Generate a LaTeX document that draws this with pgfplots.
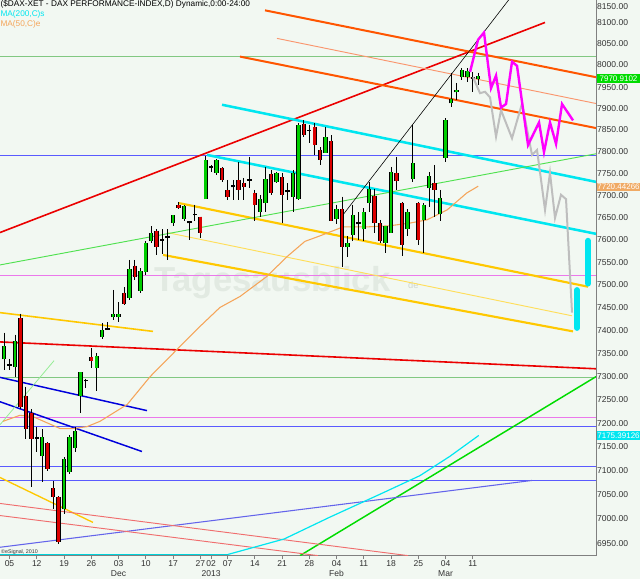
\documentclass[border=0pt]{standalone}
\usepackage{fontspec}
\setmainfont{Liberation Sans}
\usepackage{graphicx}
\usepackage{pgfplots}
\usepackage{pgfplotstable}
\pgfplotsset{compat=1.18}
\definecolor{bgc}{RGB}{242,248,242}
\definecolor{cgreen}{RGB}{0,205,0}
\definecolor{cred}{RGB}{220,0,0}
\definecolor{lred}{RGB}{235,0,0}
\definecolor{lorange}{RGB}{255,85,0}
\definecolor{lsalmon}{RGB}{250,150,110}
\definecolor{lcyan}{RGB}{0,230,240}
\definecolor{lgold}{RGB}{255,200,0}
\definecolor{lyellow}{RGB}{255,222,90}
\definecolor{dblue}{RGB}{0,0,220}
\definecolor{hblue}{RGB}{90,90,255}
\definecolor{hpink}{RGB}{235,120,235}
\definecolor{hgreen}{RGB}{130,200,130}
\definecolor{llime}{RGB}{80,225,80}
\definecolor{tgreen}{RGB}{0,220,0}
\definecolor{lpurple}{RGB}{100,100,235}
\definecolor{lpinkred}{RGB}{240,110,110}
\definecolor{pmag}{RGB}{255,0,255}
\definecolor{pgray}{RGB}{190,190,190}
\definecolor{ma50}{RGB}{245,165,90}
\definecolor{wm}{RGB}{226,234,226}
\definecolor{axgray}{RGB}{128,128,128}
\definecolor{tagorange}{RGB}{240,170,100}
\definecolor{taggreen}{RGB}{0,220,0}
\newcommand{\tfont}{\fontsize{3.2}{3.75}\selectfont}
% daily candles: index (trading day, 0 = 5 Nov 2012), open, high, low, close, body colour
\pgfplotstableread{
i O H L C col
-1 7336 7395 7314 7365 cgreen
0 7327 7338 7314 7323 black
1 7321 7391 7299 7378 cgreen
2 7427 7436 7230 7234 cred
3 7259 7278 7166 7187 cred
4 7223 7230 7066 7166 cred
5 7170 7191 7139 7166 black
6 7132 7187 7076 7170 cgreen
7 7158 7160 7099 7103 cred
8 7064 7078 7020 7045 cred
9 7045 7047 6949 6953 cred
10 7020 7128 7010 7124 cgreen
11 7097 7176 7092 7172 cgreen
12 7149 7193 7139 7185 cgreen
13 7259 7310 7223 7310 cgreen
14 7289 7295 7276 7293 black
15 7342 7362 7318 7334 cred
16 7318 7351 7268 7345 cgreen
17 7386 7416 7380 7401 cgreen
18 7401 7418 7401 7405 black
19 7429 7489 7423 7436 cgreen
20 7429 7462 7418 7436 cgreen
21 7482 7494 7454 7458 cred
22 7471 7555 7467 7535 cgreen
23 7542 7555 7511 7518 cred
24 7487 7537 7482 7531 cgreen
25 7529 7596 7522 7593 cgreen
26 7596 7630 7593 7616 cgreen
27 7620 7623 7566 7584 cred
28 7598 7623 7569 7602 black
29 7605 7623 7555 7609 black
30 7638 7656 7630 7656 cgreen
31 7679 7686 7668 7672 cred
32 7647 7679 7641 7676 cgreen
33 7637 7641 7600 7641 black
34 7655 7679 7641 7659 black
35 7652 7652 7605 7616 cred
36 7692 7790 7692 7781 cgreen
37 7762 7769 7753 7766 black
38 7751 7783 7746 7781 cgreen
39 7763 7765 7730 7735 cred
40 7712 7735 7690 7697 cred
41 7718 7735 7690 7722 black
42 7735 7776 7690 7712 cred
43 7728 7740 7690 7719 cred
44 7737 7788 7717 7733 black
45 7706 7712 7641 7679 cred
46 7663 7701 7650 7692 cgreen
47 7683 7765 7661 7737 cgreen
48 7749 7758 7701 7706 cred
49 7730 7753 7728 7751 cgreen
50 7742 7751 7638 7701 cred
51 7707 7728 7690 7711 black
52 7697 7758 7663 7751 cgreen
53 7692 7866 7690 7861 cgreen
54 7864 7871 7834 7838 cred
55 7851 7861 7820 7847 black
56 7857 7866 7792 7815 cred
57 7804 7811 7769 7781 cred
58 7797 7857 7797 7834 cgreen
59 7825 7838 7641 7641 cred
60 7647 7679 7634 7668 cgreen
61 7668 7697 7539 7584 cred
62 7584 7607 7562 7593 cgreen
63 7611 7679 7596 7656 cgreen
64 7635 7661 7600 7639 black
65 7623 7672 7596 7661 cgreen
66 7683 7730 7661 7715 cgreen
67 7699 7715 7616 7638 cred
68 7638 7645 7593 7596 cred
69 7593 7632 7571 7630 cgreen
70 7616 7765 7616 7753 cgreen
71 7751 7788 7712 7733 cred
72 7683 7686 7564 7589 cred
73 7625 7668 7607 7663 cgreen
74 7737 7861 7730 7774 cgreen
75 7683 7686 7589 7600 cred
76 7645 7683 7571 7679 cgreen
77 7717 7753 7674 7744 cgreen
78 7728 7769 7652 7712 cred
79 7659 7712 7641 7694 cgreen
80 7785 7877 7776 7873 cgreen
81 7912 7983 7903 7921 cgreen
82 7937 7959 7919 7943 cgreen
83 7973 7994 7966 7990 cgreen
84 7973 7994 7961 7987 cgreen
85 7974 7985 7938 7970 black
86 7970 7983 7954 7976 cgreen
}\candles
\begin{document}
\scalebox{2}{%
\begin{tikzpicture}
\fill[bgc] (0,-8.625pt) rectangle (240pt,208.5pt);
\begin{axis}[
  at={(0,0)}, anchor=south west,
  scale only axis, width=223.5pt, height=208.5pt,
  xmin=-1.743, xmax=107.61,
  ymode=log, ymin=6925.3, ymax=8155.8,
  axis x line*=bottom, axis y line*=right,
  axis line style={-, draw=axgray, line width=0.3pt},
  clip mode=individual,
  tick align=outside,
  major tick length=1.25pt,
  xtick={0,5,10,15,20,25,30,35,37,40,45,50,55,60,65,70,75,80,85},
  xticklabels={05,12,19,26,{03\\Dec},10,17,27,{02\\2013},07,14,21,28,{04\\Feb},11,18,25,{04\\Mar},11},
  xticklabel style={font=\tfont, align=center, text=black!80, inner sep=0.5pt},
  x tick style={draw=axgray, line width=0.25pt},
  ytick={6950,7000,7050,7100,7150,7200,7250,7300,7350,7400,7450,7500,7550,7600,7650,7700,7750,7800,7850,7900,7950,8000,8050,8100},
  yticklabels={6950.00,7000.00,7050.00,7100.00,7150.00,7200.00,7250.00,7300.00,7350.00,7400.00,7450.00,7500.00,7550.00,7600.00,7650.00,7700.00,7750.00,7800.00,7850.00,7900.00,7950.00,8000.00,8050.00,8100.00},
  extra y ticks={8150}, extra y tick labels={8150.00},
  extra y tick style={yticklabel style={yshift=-1.75pt}},
  y tick style={draw=none},
  yticklabel style={font=\tfont, text=black!80, anchor=west, inner sep=0.2pt},
  yticklabel shift=-1.2pt,
  minor y tick num=0,
  every axis plot/.append style={no markers},
]
% watermark
\node[text=wm, font=\bfseries\fontsize{13}{13}\selectfont] at (axis cs:48.2,7504) {Tagesausblick};
\node[text=wm!92!black, font=\fontsize{3.5}{3.5}\selectfont, anchor=south west] at (axis cs:71.4,7470) {de};
% horizontal lines
\addplot[hgreen, line width=0.35pt] coordinates {(-1.743,8020) (107.61,8020)};
\addplot[hblue, line width=0.4pt] coordinates {(-1.743,7790) (107.61,7790)};
\addplot[hpink, line width=0.45pt] coordinates {(-1.743,7520) (107.61,7520)};
\addplot[hpink, line width=0.45pt] coordinates {(-1.743,7212) (107.61,7212)};
\addplot[hblue, line width=0.4pt] coordinates {(-1.743,7193) (107.61,7193)};
\addplot[hblue, line width=0.4pt] coordinates {(-1.743,7109) (107.61,7109)};
\addplot[hblue, line width=0.4pt] coordinates {(-1.743,7080) (107.61,7080)};
\addplot[hgreen, line width=0.45pt] coordinates {(-1.743,7298) (107.61,7298)};
% trend lines
\addplot[lred, line width=0.6pt] coordinates {(-1.743,7616) (98.26,8101)};
\addplot[lred, line width=0.6pt] coordinates {(-1.743,7375) (107.61,7317)};
\addplot[lorange, line width=0.75pt] coordinates {(46.88,8130) (107.61,7973)};
\addplot[lsalmon, line width=0.35pt] coordinates {(49.08,8063) (107.61,7912)};
\addplot[lorange, line width=0.75pt] coordinates {(42.29,8020) (107.61,7854)};
\addplot[lcyan, line width=0.95pt] coordinates {(38.99,7908) (107.61,7731)};
\addplot[lcyan, line width=0.95pt] coordinates {(36.24,7792) (107.61,7613)};
\addplot[lgold, line width=0.8pt] coordinates {(31.1,7683) (106.15,7496)};
\addplot[lgold, line width=0.8pt] coordinates {(28.17,7566) (103.4,7397)};
\addplot[lyellow, line width=0.35pt] coordinates {(28.9,7616) (103.2,7432)};
\addplot[lgold, line width=0.6pt] coordinates {(-1.743,7438) (26.33,7397)};
\addplot[lgold, line width=0.5pt] coordinates {(-1.743,7086) (15.32,6993)};
\addplot[dblue, line width=0.55pt] coordinates {(-1.743,7298) (25.23,7227)};
\addplot[dblue, line width=0.55pt] coordinates {(-1.743,7246) (24.31,7140)};
\addplot[llime, line width=0.35pt] coordinates {(-1.743,7544) (107.61,7795)};
\addplot[llime!60!white, line width=0.3pt] coordinates {(-1.743,7197) (8.17,7334)};
\addplot[tgreen, line width=0.55pt] coordinates {(53.3,6925.3) (107.61,7300)};
\addplot[lpurple, line width=0.4pt] coordinates {(-1.743,6942) (95.87,7080)};
\addplot[lpinkred, line width=0.35pt] coordinates {(-1.743,7032) (73.12,6925.3)};
\addplot[lpinkred, line width=0.35pt] coordinates {(-1.743,7007) (56.6,6925.3)};
\addplot[black, line width=0.22pt] coordinates {(61.19,7656) (91.65,8156)};
% MA200
\addplot[lcyan!80!teal, line width=0.45pt] coordinates {(-1.743,6927) (40.1,6927)};
\addplot[lcyan, line width=0.45pt] coordinates {(40.1,6927) (50.4,6959) (58.8,7004) (68.0,7051) (75.3,7090) (80.8,7130) (86.1,7174)};
% MA50
\addplot[ma50, line width=0.4pt] coordinates {(-1.2,7204) (1.9,7217) (4.3,7214) (9.3,7189) (11.5,7189) (14.2,7193) (16.6,7204) (21.6,7240) (25.8,7300) (30.7,7358) (34.9,7408) (38.6,7450) (42.3,7474) (47.2,7518) (50.9,7562) (54.2,7596) (57,7609) (61.2,7629) (65.6,7629) (69.8,7631) (73.5,7638) (76.6,7645) (80.3,7667) (83.9,7706) (86,7721)};
% candles
\pgfplotsforeachungrouped \r in {0,...,87} {
  \pgfplotstablegetelem{\r}{i}\of\candles \let\ci\pgfplotsretval
  \pgfplotstablegetelem{\r}{O}\of\candles \let\cO\pgfplotsretval
  \pgfplotstablegetelem{\r}{H}\of\candles \let\cH\pgfplotsretval
  \pgfplotstablegetelem{\r}{L}\of\candles \let\cL\pgfplotsretval
  \pgfplotstablegetelem{\r}{C}\of\candles \let\cC\pgfplotsretval
  \pgfplotstablegetelem{\r}{col}\of\candles \let\cc\pgfplotsretval
  \edef\cmd{%
    \noexpand\addplot[black, line width=0.3pt] coordinates {(\ci,\cH) (\ci,\cL)};
    \noexpand\addplot[black, line width=1.65pt, line cap=butt] coordinates {(\ci,\cO) (\ci,\cC)};
    \noexpand\addplot[\cc, line width=0.95pt, line cap=butt] coordinates {(\ci,\cO) (\ci,\cC)};
  }\cmd
}
% projections
\addplot[pgray, line width=0.75pt] coordinates {(85.05,7973) (86.33,7936) (87.25,7938) (88.17,7926) (89.27,7834) (90.18,7896) (92.2,7831) (94.04,7912) (95.87,7792) (96.79,7804) (98.26,7667) (99.17,7751) (100.09,7649) (101.19,7701) (102.11,7692) (103.21,7438)};
\addplot[pmag, line width=0.9pt] coordinates {(84.5,7985) (85.97,8060) (87.06,8077) (88.35,7947) (89.27,7976) (90.18,7901) (91.1,7910) (92.2,8008) (93.12,7999) (95.14,7815) (97.16,7868) (98.07,7799) (99.17,7868) (100.28,7818) (101.38,7910) (103.4,7871)};
\addplot[lcyan, line width=2.2pt, line cap=round] coordinates {(106.15,7598) (106.15,7503)};
\addplot[lcyan, line width=2.2pt, line cap=round] coordinates {(104.13,7488) (104.13,7405)};
% texts
\node[anchor=north west, inner sep=0pt, align=left, font=\fontsize{3.1}{3.75}\selectfont] at (rel axis cs:0,1) {\textcolor{black}{(\$DAX-XET - DAX PERFORMANCE-INDEX,D) Dynamic,0:00-24:00}\\\textcolor{lcyan}{MA(200,C)s}\\\textcolor{ma50}{MA(50,C)e}};
\node[anchor=south west, inner sep=0.25pt, font=\fontsize{2}{2}\selectfont, text=black!80] at (rel axis cs:0,0) {©eSignal, 2010};
\coordinate (tA) at (axis cs:107.61,7971);
\coordinate (tB) at (axis cs:107.61,7720);
\coordinate (tC) at (axis cs:107.61,7175);
\end{axis}
\node[anchor=west, fill=taggreen, text=white, inner xsep=0.15pt, inner ysep=0.5pt, font=\fontsize{3.0}{3.5}\selectfont, minimum width=16.5pt] at (tA) {7970.9102};
\node[anchor=west, fill=tagorange, text=white, inner xsep=0.15pt, inner ysep=0.5pt, font=\fontsize{3.0}{3.5}\selectfont, minimum width=16.5pt] at (tB) {7720.44266};
\node[anchor=west, fill=lcyan, text=white, inner xsep=0.15pt, inner ysep=0.5pt, font=\fontsize{3.0}{3.5}\selectfont, minimum width=16.5pt] at (tC) {7175.39126};
\pgfresetboundingbox
\path[use as bounding box] (0,-8.625pt) rectangle (240pt,208.5pt);
\end{tikzpicture}}
\end{document}
